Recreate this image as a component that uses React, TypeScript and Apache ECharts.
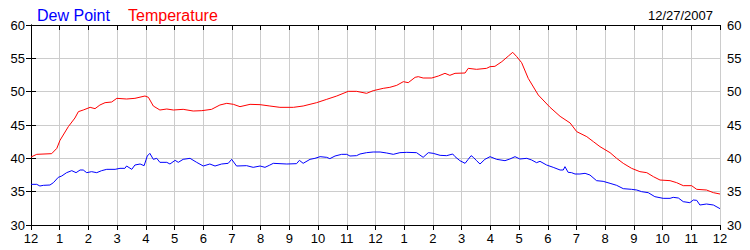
import React, { useEffect, useRef } from "react";
import * as echarts from "echarts";

const hourTicks = ["12", "1", "2", "3", "4", "5", "6", "7", "8", "9", "10", "11", "12", "1", "2", "3", "4", "5", "6", "7", "8", "9", "10", "11", "12"];

const tempHours = [0.0, 0.2, 0.72, 0.9, 1.01, 1.3, 1.53, 1.65, 1.82, 2.06, 2.23, 2.4, 2.58, 2.81, 2.99, 3.33, 3.62, 3.97, 4.09, 4.26, 4.49, 4.73, 4.96, 5.3, 5.65, 5.95, 6.29, 6.58, 6.82, 7.05, 7.28, 7.63, 7.98, 8.32, 8.67, 9.14, 9.48, 9.95, 10.3, 10.65, 11.05, 11.34, 11.69, 11.92, 12.27, 12.5, 12.74, 12.97, 13.14, 13.38, 13.49, 13.66, 13.96, 14.19, 14.42, 14.59, 14.77, 15.12, 15.23, 15.52, 15.87, 15.99, 16.16, 16.4, 16.63, 16.78, 16.92, 17.09, 17.32, 17.67, 18.08, 18.43, 18.78, 19.01, 19.36, 19.59, 19.82, 20.17, 20.4, 20.63, 20.92, 21.21, 21.45, 21.68, 21.91, 22.26, 22.49, 22.72, 23.01, 23.19, 23.53, 23.77, 24.0];
const tempValues = [40.2, 40.6, 40.7, 41.5, 42.7, 44.75, 46.05, 47.0, 47.25, 47.65, 47.45, 48.0, 48.35, 48.45, 49.0, 48.9, 49.0, 49.35, 49.15, 47.85, 47.25, 47.4, 47.25, 47.35, 47.1, 47.15, 47.35, 48.0, 48.25, 48.1, 47.75, 48.1, 48.05, 47.85, 47.65, 47.65, 47.85, 48.35, 48.85, 49.35, 50.05, 50.05, 49.75, 50.15, 50.5, 50.65, 50.95, 51.5, 51.35, 52.15, 52.25, 52.05, 52.05, 52.35, 52.75, 52.45, 52.75, 52.8, 53.5, 53.35, 53.5, 53.75, 53.8, 54.5, 55.35, 55.9, 55.25, 54.35, 52.0, 49.5, 47.65, 46.3, 45.3, 44.0, 43.25, 42.5, 41.75, 40.85, 40.0, 39.25, 38.5, 38.0, 37.85, 37.25, 36.75, 36.65, 36.35, 35.9, 35.9, 35.35, 35.25, 34.85, 34.65];

const dewHours = [0.0, 0.2, 0.31, 0.43, 0.66, 0.78, 0.95, 1.07, 1.24, 1.42, 1.57, 1.71, 1.82, 1.94, 2.11, 2.29, 2.46, 2.64, 2.93, 3.1, 3.27, 3.33, 3.51, 3.62, 3.8, 3.94, 4.05, 4.14, 4.26, 4.38, 4.49, 4.73, 4.84, 5.02, 5.13, 5.3, 5.54, 5.77, 6.0, 6.23, 6.41, 6.64, 6.87, 6.99, 7.16, 7.51, 7.74, 7.98, 8.15, 8.3, 8.44, 8.91, 9.25, 9.35, 9.48, 9.72, 9.89, 10.07, 10.3, 10.41, 10.59, 10.82, 11.0, 11.11, 11.34, 11.46, 11.69, 11.92, 12.16, 12.39, 12.62, 12.85, 13.09, 13.43, 13.66, 13.84, 14.01, 14.25, 14.48, 14.69, 14.77, 14.94, 15.12, 15.23, 15.33, 15.41, 15.52, 15.64, 15.81, 15.99, 16.22, 16.51, 16.68, 16.86, 17.03, 17.27, 17.44, 17.61, 17.73, 17.96, 18.19, 18.43, 18.54, 18.6, 18.71, 18.83, 18.95, 19.12, 19.3, 19.47, 19.7, 19.93, 20.17, 20.4, 20.63, 20.92, 21.1, 21.27, 21.5, 21.73, 22.02, 22.26, 22.37, 22.55, 22.72, 22.95, 23.07, 23.19, 23.3, 23.53, 23.77, 24.0];
const dewValues = [36.1, 36.1, 35.85, 35.95, 36.0, 36.35, 37.15, 37.35, 37.85, 38.15, 37.85, 38.25, 38.25, 37.85, 38.0, 37.85, 38.15, 38.35, 38.35, 38.5, 38.5, 38.85, 38.35, 39.0, 39.15, 38.9, 40.35, 40.75, 39.85, 40.0, 39.4, 39.4, 39.15, 39.7, 39.4, 39.85, 40.0, 39.4, 38.85, 39.15, 38.85, 39.15, 39.25, 39.85, 38.85, 38.9, 38.65, 38.85, 38.65, 38.95, 39.25, 39.15, 39.2, 39.7, 39.25, 39.85, 40.0, 40.25, 40.15, 39.95, 40.35, 40.6, 40.6, 40.35, 40.4, 40.65, 40.85, 40.95, 40.95, 40.8, 40.6, 40.85, 40.9, 40.85, 40.15, 40.85, 40.75, 40.45, 40.4, 40.65, 40.25, 39.65, 39.25, 39.85, 40.4, 40.15, 39.65, 39.15, 39.85, 40.25, 39.85, 39.65, 39.9, 40.25, 39.9, 40.0, 39.75, 39.35, 39.55, 39.0, 38.65, 38.25, 38.25, 38.75, 37.9, 37.85, 37.65, 37.65, 37.75, 37.5, 36.65, 36.55, 36.25, 35.95, 35.45, 35.35, 35.25, 35.0, 34.85, 34.25, 34.0, 34.0, 34.15, 34.05, 33.5, 33.35, 33.75, 33.7, 33.0, 33.15, 33.0, 32.45];

const legendDew = "Dew Point";
const legendTemp = "Temperature";
const dateLabel = "12/27/2007";

const FONT = "'Liberation Sans', Arial, sans-serif";

export default function App() {
  const ref = useRef<HTMLDivElement>(null);
  useEffect(() => {
    if (!ref.current) return;
    const chart = echarts.init(ref.current, null, { renderer: "svg" });
    const zip = (h: number[], v: number[]) => h.map((x, i) => [x, v[i]]);
    const labelFmt = (v: number) => hourTicks[Math.round(v)] ?? "";
    chart.setOption({
      animation: false,
      backgroundColor: "#ffffff",
      textStyle: { fontFamily: FONT },
      title: [
        { text: legendDew, left: 32, top: 2, textStyle: { color: "#0000ff", fontSize: 16, fontWeight: "normal", fontFamily: FONT } },
        { text: legendTemp, left: 123, top: 2, textStyle: { color: "#ff0000", fontSize: 16, fontWeight: "normal", fontFamily: FONT } },
        { text: dateLabel, right: 32, top: 4, textStyle: { color: "#000000", fontSize: 13, fontWeight: "normal", fontFamily: FONT } },
      ],
      grid: { left: 31, right: 30, top: 25, bottom: 25, containLabel: false },
      xAxis: [
        {
          type: "value", min: 0, max: 24, interval: 1, position: "bottom",
          axisLine: { show: true, lineStyle: { color: "#000", width: 1 } },
          axisTick: { show: true, inside: false, length: 5, lineStyle: { color: "#000" } },
          axisLabel: { formatter: labelFmt, color: "#000", fontSize: 13, fontFamily: FONT, margin: 7 },
          splitLine: { show: true, lineStyle: { color: "#cccccc", width: 1 } },
        },
        {
          type: "value", min: 0, max: 24, interval: 1, position: "top",
          axisLine: { show: true, lineStyle: { color: "#000", width: 1 } },
          axisTick: { show: true, inside: true, length: 5, lineStyle: { color: "#000" } },
          axisLabel: { show: false },
          splitLine: { show: false },
        },
      ],
      yAxis: [
        {
          type: "value", min: 30, max: 60, interval: 5, position: "left",
          axisLine: { show: true, lineStyle: { color: "#000", width: 1 } },
          axisTick: { show: true, inside: false, length: 5, lineStyle: { color: "#000" } },
          axisLabel: { color: "#000", fontSize: 13, fontFamily: FONT, margin: 6 },
          splitLine: { show: true, lineStyle: { color: "#cccccc", width: 1 } },
        },
        {
          type: "value", min: 30, max: 60, interval: 5, position: "right",
          axisLine: { show: true, lineStyle: { color: "#000", width: 1 } },
          axisTick: { show: true, inside: false, length: 5, lineStyle: { color: "#000" } },
          axisLabel: { color: "#000", fontSize: 13, fontFamily: FONT, margin: 7 },
          splitLine: { show: false },
        },
      ],
      series: [
        {
          name: legendTemp, type: "line", xAxisIndex: 0, yAxisIndex: 0,
          data: zip(tempHours, tempValues), showSymbol: false, symbol: "none",
          lineStyle: { color: "#ff0000", width: 1 }, itemStyle: { color: "#ff0000" },
        },
        {
          name: legendDew, type: "line", xAxisIndex: 0, yAxisIndex: 0,
          data: zip(dewHours, dewValues), showSymbol: false, symbol: "none",
          lineStyle: { color: "#0000ff", width: 1 }, itemStyle: { color: "#0000ff" },
        },
      ],
    });
    return () => chart.dispose();
  }, []);
  return (
    <div
      ref={ref}
      style={{ position: "fixed", left: 0, top: 0, width: 750, height: 250, background: "#fff" }}
    />
  );
}
